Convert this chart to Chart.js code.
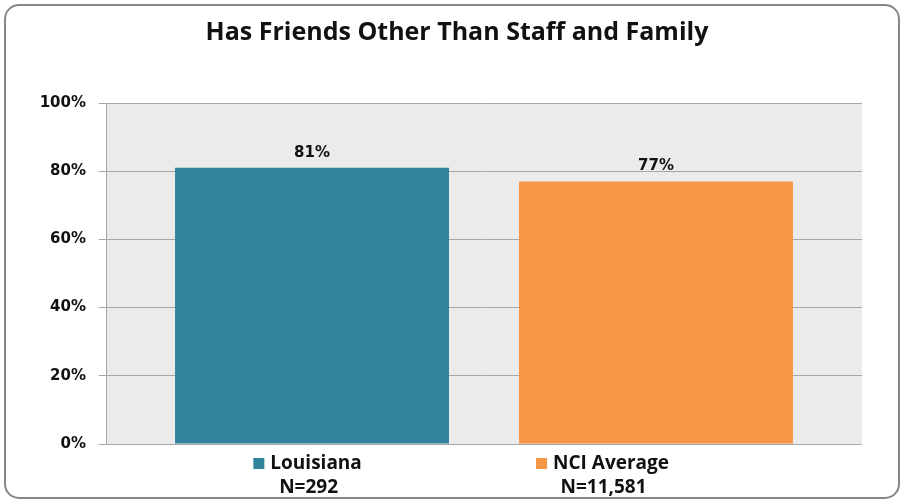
<!DOCTYPE html>
<html>
<head>
<meta charset="utf-8">
<script src="https://cdn.jsdelivr.net/npm/chart.js@4"></script>
<style>
  html, body { margin: 0; padding: 0; background: #ffffff; }
  #wrap { width: 902px; height: 501px; position: relative; }
</style>
</head>
<body>
<div id="wrap"><canvas id="c" width="902" height="501"></canvas></div>
<script>
const chartTitle = 'Has Friends Other Than Staff and Family';
const seriesNames = ['Louisiana', 'NCI Average'];
const seriesValues = [81, 77];
const sampleSizes = ['N=292', 'N=11,581'];
const seriesColors = ['#32849C', '#F79646'];
const yTickValues = [0, 20, 40, 60, 80, 100];

const framePlugin = {
  id: 'frame',
  beforeDraw(chart) {
    const ctx = chart.ctx, a = chart.chartArea;
    ctx.save();
    ctx.fillStyle = '#ffffff';
    ctx.fillRect(0, 0, chart.width, chart.height);
    ctx.fillStyle = '#EBEBEB';
    ctx.fillRect(a.left, a.top, a.right - a.left, a.bottom - a.top);
    ctx.restore();
  },
  afterDraw(chart) {
    const ctx = chart.ctx;
    ctx.save();
    // frame
    ctx.strokeStyle = '#878787';
    ctx.lineWidth = 2;
    ctx.beginPath();
    ctx.roundRect(5, 5, chart.width - 8, chart.height - 8, 14);
    ctx.stroke();
    // title
    ctx.fillStyle = '#111111';
    ctx.font = 'bold 25px "Open Sans", "Liberation Sans", sans-serif';
    ctx.textAlign = 'center';
    ctx.textBaseline = 'middle';
    ctx.fillText(chartTitle, chart.width / 2 + 6, 33);
    // data labels
    ctx.font = 'bold 15px "DejaVu Sans", sans-serif';
    chart.data.datasets.forEach((ds, i) => {
      const meta = chart.getDatasetMeta(i);
      meta.data.forEach((bar, j) => {
        ctx.fillText(ds.data[j] + '%', bar.x, bar.y - 15);
      });
    });
    // legend with sample sizes
    const centers = [chart.width * 0.341, chart.width * 0.668];
    ctx.font = 'bold 19px "Open Sans", "Liberation Sans", sans-serif';
    seriesNames.forEach((name, i) => {
      const tw = ctx.measureText(name).width;
      const box = 11, gap = 6;
      const total = box + gap + tw;
      const x0 = centers[i] - total / 2;
      ctx.fillStyle = seriesColors[i];
      ctx.fillRect(x0, 458, box, box);
      ctx.fillStyle = '#111111';
      ctx.textAlign = 'left';
      ctx.fillText(name, x0 + box + gap, 464);
      ctx.textAlign = 'center';
      ctx.fillText(sampleSizes[i], centers[i] + 1, 488);
    });
    ctx.restore();
  }
};

new Chart(document.getElementById('c'), {
  type: 'bar',
  data: {
    labels: [''],
    datasets: seriesNames.map((n, i) => ({
      label: n,
      data: [seriesValues[i]],
      backgroundColor: seriesColors[i],
      borderWidth: 0,
      categoryPercentage: 0.91,
      barPercentage: 0.7965
    }))
  },
  options: {
    responsive: false,
    animation: false,
    devicePixelRatio: 1,
    layout: { padding: { top: 103, left: 40, right: 40, bottom: 57 } },
    plugins: {
      legend: { display: false },
      title: { display: false },
      tooltip: { enabled: false }
    },
    scales: {
      x: { display: false },
      y: {
        min: 0, max: 100,
        afterFit(scale) { scale.width = 66; },
        afterBuildTicks(scale) { scale.ticks = yTickValues.map(v => ({ value: v })); },
        ticks: {
          padding: 13,
          color: '#111111',
          font: { family: '"DejaVu Sans", sans-serif', size: 15, weight: 'bold' },
          callback: v => v + '%'
        },
        grid: { color: '#A6A6A6', lineWidth: 1, tickLength: 7, drawTicks: true },
        border: { color: '#A6A6A6', width: 1 }
      }
    }
  },
  plugins: [framePlugin]
});
</script>
</body>
</html>
